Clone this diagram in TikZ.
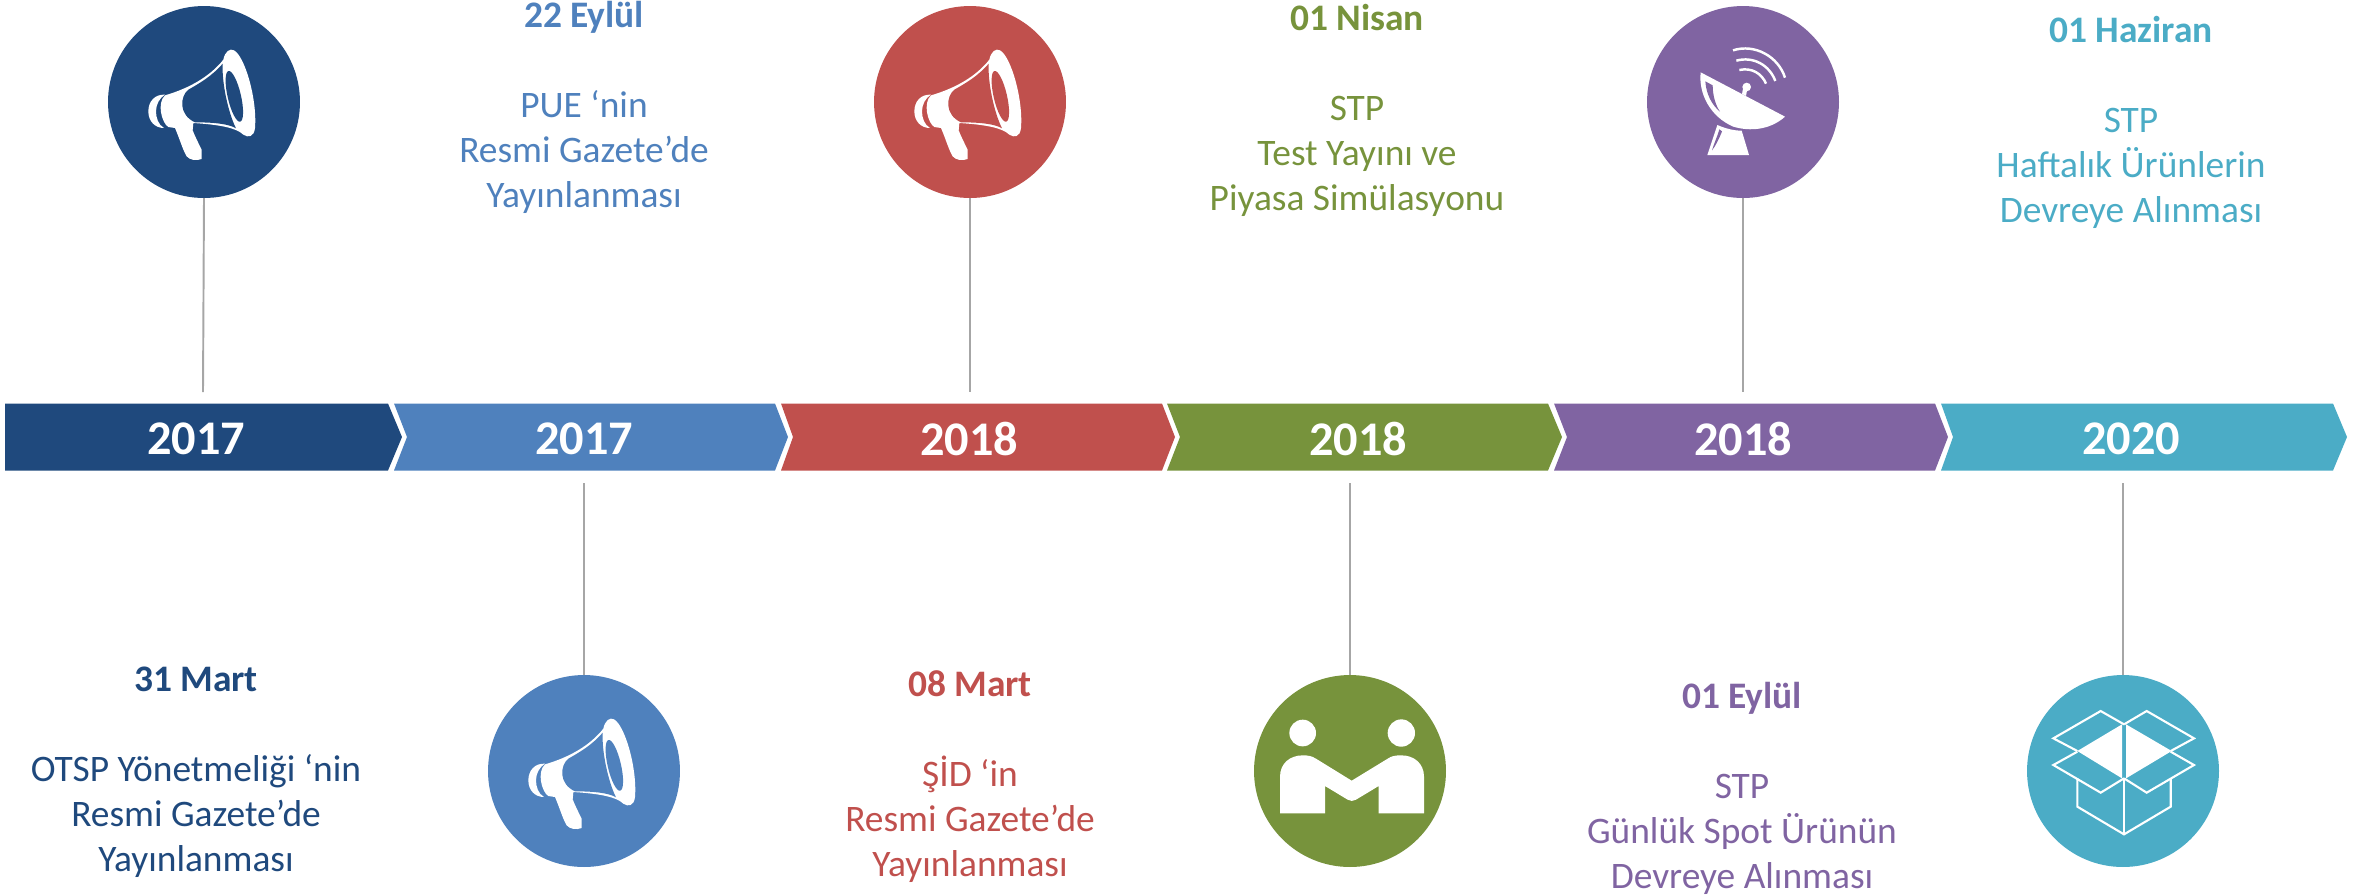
\documentclass[tikz,border=0pt]{standalone}
\usepackage{fontspec}
\setmainfont{Carlito}
\definecolor{cnavy}{HTML}{1F497D}
\definecolor{cblue}{HTML}{4F81BD}
\definecolor{cred}{HTML}{C0504D}
\definecolor{cgreen}{HTML}{77933C}
\definecolor{cpurple}{HTML}{8064A2}
\definecolor{cteal}{HTML}{4BACC6}
\tikzset{
  x=0.02cm,y=-0.02cm,
  yearlab/.style={text=white,font=\fontsize{27.5}{30}\selectfont\bfseries,inner sep=0},
  blocktext/.style={align=center,inner sep=0,font=\fontsize{21.3}{25.6}\selectfont},
  disc/.style={circle,minimum size=3.84cm,inner sep=0,draw=none},
  stem/.style={draw=black!35,line width=1.1pt},
  pics/megaphone/.style={code={
    \begin{scope}[scale=1/3,shift={(-372,-307)}]
      \fill[white] (255,287) .. controls (330,265) and (390,230) .. (430,180)
        .. controls (435,155) and (450,145) .. (462,152)
        .. controls (495,170) and (532,300) .. (525,385)
        .. controls (522,412) and (505,415) .. (490,405)
        .. controls (470,385) and (420,375) .. (340,370)
        -- (338,392) .. controls (345,410) and (355,430) .. (365,450)
        -- (365,478) .. controls (350,484) and (330,482) .. (320,470)
        .. controls (308,450) and (300,420) .. (285,385)
        -- (265,382) .. controls (245,370) and (230,310) .. (255,287) -- cycle;
      \fill[white] (255,285) .. controls (225,283) and (205,305) .. (205,335)
        .. controls (205,365) and (225,385) .. (252,385)
        .. controls (235,375) and (228,355) .. (228,335)
        .. controls (228,315) and (238,295) .. (255,285) -- cycle;
      \fill[#1] (428,192) .. controls (395,230) and (360,250) .. (325,270)
        .. controls (300,290) and (295,345) .. (345,368)
        .. controls (400,368) and (445,372) .. (468,386)
        .. controls (445,340) and (425,250) .. (428,192) -- cycle;
      \fill[#1,rotate around={13:(463,290)}] (463,290) ellipse [x radius=20,y radius=78];
    \end{scope}}},
  pics/dish/.style={code={
    \begin{scope}[scale=1/3,shift={(-339,-276)}]
      \fill[white] (212,187) -- (465,320)
        .. controls (420,360) and (360,365) .. (310,350)
        .. controls (240,320) and (205,250) .. (212,187) -- cycle;
      \fill[#1] (226,214) -- (248,226) .. controls (248,255) and (256,285) .. (270,305)
        .. controls (245,285) and (228,250) .. (226,214) -- cycle;
      \fill[white] (350,231) circle [radius=13];
      \fill[white] (340,230) -- (352,235) -- (348,258) -- (336,252) -- cycle;
      \draw[white,line width=1.4pt] (328,180) .. controls (365,172) and (395,190) .. (408,221);
      \draw[white,line width=1.4pt] (319,152) .. controls (370,138) and (418,165) .. (436,213);
      \draw[white,line width=1.4pt] (309,121) .. controls (375,100) and (445,140) .. (465,203);
      \fill[white] (262,345) -- (232,435) -- (357,435) -- (335,362)
        .. controls (310,362) and (285,355) .. (262,345) -- cycle;
      \fill[#1] (268,358) -- (276,364) .. controls (268,385) and (255,410) .. (246,421)
        .. controls (252,400) and (262,380) .. (268,358) -- cycle;
    \end{scope}}},
  pics/handshake/.style={code={
    \begin{scope}[scale=1/3,shift={(-330,-303)}]
      \fill[white] (188,189) circle [radius=40];
      \fill[white] (484,189) circle [radius=41];
      \fill[white] (120,430) -- (120,320)
        .. controls (120,280) and (150,256) .. (188,256)
        .. controls (205,256) and (215,258) .. (228,266)
        -- (335,332) -- (443,266)
        .. controls (455,258) and (465,256) .. (484,256)
        .. controls (522,256) and (552,280) .. (552,320)
        -- (552,430) -- (416,430) -- (416,348) -- (348,389)
        .. controls (340,394) and (331,394) .. (323,389)
        -- (255,348) -- (255,430) -- cycle;
    \end{scope}}},
  pics/openbox/.style={code={
    \begin{scope}[scale=1/3,shift={(-309,-303)},line join=miter]
      \begin{scope}[white,line width=1.2pt]
      \draw (172,243) -- (100,205) -- (242,123) -- (312,163);
      \draw (312,163) -- (380,123) -- (522,205) -- (452,243);
      \draw (172,245) -- (100,285) -- (242,368) -- (312,325);
      \draw (452,245) -- (522,285) -- (380,368) -- (312,325);
      \draw (172,325) -- (172,410) -- (312,493) -- (452,410) -- (452,325);
      \draw (312,325) -- (312,493);
      \end{scope}
      \fill[white] (172,243) -- (306,163) -- (306,325) -- cycle;
      \fill[white] (318,163) -- (455,243) -- (318,325) -- cycle;
    \end{scope}}}
}
\begin{document}
\begin{tikzpicture}
\useasboundingbox (0,0) rectangle (2365,894);
% ribbon
\fill[cnavy] (5,403.5) -- (388,403.5) -- (402,437) -- (388,470.5) -- (5,470.5) -- cycle;
\fill[cblue] (394,403.5) -- (775,403.5) -- (788,437) -- (775,470.5) -- (394,470.5) -- (407,437) -- cycle;
\fill[cred] (781,403.5) -- (1162,403.5) -- (1175,437) -- (1162,470.5) -- (781,470.5) -- (793,437) -- cycle;
\fill[cgreen] (1167,403.5) -- (1548,403.5) -- (1562,437) -- (1548,470.5) -- (1167,470.5) -- (1180,437) -- cycle;
\fill[cpurple] (1554,403.5) -- (1935,403.5) -- (1948,437) -- (1935,470.5) -- (1554,470.5) -- (1567,437) -- cycle;
\fill[cteal] (1941,403.5) -- (2333,403.5) -- (2347,437) -- (2333,470.5) -- (1941,470.5) -- (1953,437) -- cycle;
\node[yearlab] (y1) at (196,438.5) {2017};
\node[yearlab] (y2) at (584,438.5) {2017};
\node[yearlab] (y3) at (969,438.5) {2018};
\node[yearlab] (y4) at (1358,438.5) {2018};
\node[yearlab] (y5) at (1743,438.5) {2018};
\node[yearlab] (y6) at (2131,438.5) {2020};
% discs
\node[disc,fill=cnavy] (d1) at (204,102) {};
\node[disc,fill=cblue] (d2) at (584,771) {};
\node[disc,fill=cred] (d3) at (970,102) {};
\node[disc,fill=cgreen] (d4) at (1350,771) {};
\node[disc,fill=cpurple] (d5) at (1743,102) {};
\node[disc,fill=cteal] (d6) at (2123,771) {};
% stems
\coordinate (e1) at (203,392);
\coordinate (e2) at (584,483);
\coordinate (e3) at (970,392);
\coordinate (e4) at (1350,483);
\coordinate (e5) at (1743,392);
\coordinate (e6) at (2123,483);
\draw[stem] (d1) ++(0,96) -- (e1);
\draw[stem] (d2) ++(0,-96) -- (e2);
\draw[stem] (d3) ++(0,96) -- (e3);
\draw[stem] (d4) ++(0,-96) -- (e4);
\draw[stem] (d5) ++(0,96) -- (e5);
\draw[stem] (d6) ++(0,-96) -- (e6);
% icons
\pic at (d1) {megaphone=cnavy};
\pic at (d2) {megaphone=cblue};
\pic at (d3) {megaphone=cred};
\pic at (d4) {handshake};
\pic at (d5) {dish=cpurple};
\pic at (d6) {openbox};
% texts
\node[blocktext,text=cnavy] (t1) at (196,772) {\textbf{31 Mart}\\~\\OTSP Yönetmeliği ‘nin\\Resmi Gazete’de\\Yayınlanması};
\node[blocktext,text=cblue] (t2) at (584,107) {\textbf{22 Eylül}\\~\\PUE ‘nin\\Resmi Gazete’de\\Yayınlanması};
\node[blocktext,text=cred] (t3) at (970,777) {\textbf{08 Mart}\\~\\ŞİD ‘in\\Resmi Gazete’de\\Yayınlanması};
\node[blocktext,text=cgreen] (t4) at (1357,110) {\textbf{01 Nisan}\\~\\STP\\Test Yayını ve\\Piyasa Simülasyonu};
\node[blocktext,text=cpurple] (t5) at (1742,788) {\textbf{01 Eylül}\\~\\STP\\Günlük Spot Ürünün\\Devreye Alınması};
\node[blocktext,text=cteal] (t6) at (2131,122) {\textbf{01 Haziran}\\~\\STP\\Haftalık Ürünlerin\\Devreye Alınması};
\end{tikzpicture}
\end{document}
